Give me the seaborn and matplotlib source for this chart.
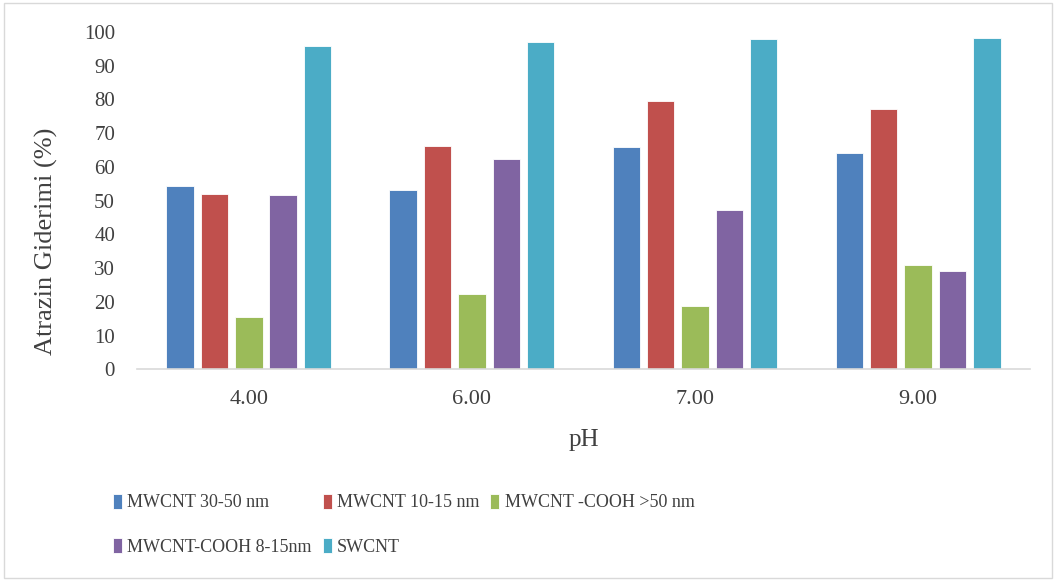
import matplotlib
matplotlib.use("Agg")
import matplotlib.pyplot as plt
from matplotlib.patches import Rectangle
import seaborn as sns
import pandas as pd

# data
ph_levels = ["4.00", "6.00", "7.00", "9.00"]
series_names = ["MWCNT 30-50 nm", "MWCNT 10-15 nm", "MWCNT -COOH >50 nm",
                "MWCNT-COOH 8-15nm", "SWCNT"]
mwcnt_30_50 = [54.2, 53.1, 66.0, 64.1]
mwcnt_10_15 = [52.1, 66.2, 79.5, 77.2]
mwcnt_cooh_50 = [15.6, 22.3, 18.7, 30.9]
mwcnt_cooh_8_15 = [51.7, 62.3, 47.1, 29.1]
swcnt = [95.7, 96.9, 97.9, 98.1]
colors = ["#4F81BD", "#C0504D", "#9BBB59", "#8064A2", "#4BACC6"]

rows = []
for name, vals in zip(series_names, [mwcnt_30_50, mwcnt_10_15, mwcnt_cooh_50,
                                     mwcnt_cooh_8_15, swcnt]):
    for ph, v in zip(ph_levels, vals):
        rows.append({"pH": ph, "Seri": name, "Deger": v})
df = pd.DataFrame(rows)

sns.set_style("white")
plt.rcParams["font.family"] = ["Liberation Serif", "DejaVu Serif"]
txt = "#404040"

fig = plt.figure(figsize=(10.56, 5.81), dpi=100)
ax = fig.add_axes([0.130, 0.3644, 0.845, 0.5806])

sns.barplot(data=df, x="pH", y="Deger", hue="Seri", order=ph_levels,
            hue_order=series_names, palette=colors, saturation=1,
            width=0.77, gap=0.2, edgecolor="white", linewidth=0.6, ax=ax)

ax.set_ylim(0, 100)
ax.set_yticks(range(0, 101, 10))
ax.set_xlim(-0.5, 3.5)
ax.tick_params(axis="y", labelsize=15, length=0, pad=16, colors=txt)
ax.tick_params(axis="x", labelsize=16, length=0, pad=15, colors=txt)
ax.set_ylabel("Atrazin Giderimi (%)", fontsize=19, color=txt)
ax.yaxis.set_label_coords(-0.089, 0.38)
ax.set_xlabel("pH", fontsize=18, color=txt, labelpad=14)
for s in ["top", "right", "left"]:
    ax.spines[s].set_visible(False)
ax.spines["bottom"].set_color("#d9d9d9")
ax.spines["bottom"].set_linewidth(1.2)

# legend in row order, 3 columns
handles, labels = ax.get_legend_handles_labels()
ax.legend_.remove()
order = [0, 3, 1, 4, 2]
leg = fig.legend([handles[i] for i in order], [labels[i] for i in order],
                 ncol=3, loc="upper left", bbox_to_anchor=(0.100, 0.163),
                 frameon=False, fontsize=13, handlelength=0.5, handleheight=0.9,
                 handletextpad=0.3, columnspacing=0.6, labelspacing=1.5,
                 borderaxespad=0)
for t in leg.get_texts():
    t.set_color(txt)

fig.patches.append(Rectangle((0.004, 0.006), 0.992, 0.988, transform=fig.transFigure,
                             fill=False, edgecolor="#d9d9d9", linewidth=1))

fig.savefig("out.png", dpi=100)
